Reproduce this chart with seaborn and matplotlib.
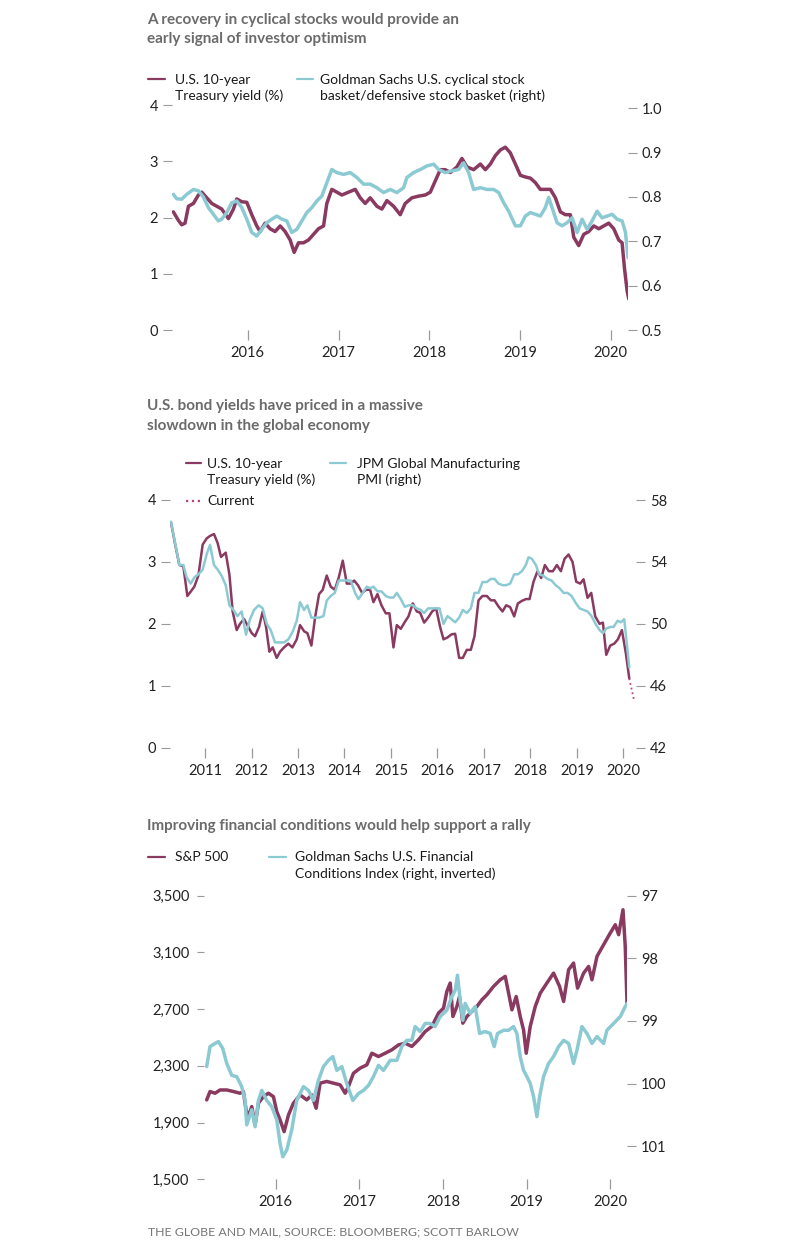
import matplotlib
matplotlib.use("Agg")
import matplotlib.pyplot as plt
from matplotlib.lines import Line2D
import seaborn as sns

# Chart 1: US 10y yield vs cyclical/defensive ratio
yield1_x = [2015.180, 2015.235, 2015.272, 2015.309, 2015.346, 2015.401, 2015.456, 2015.493, 2015.548,
            2015.603, 2015.658, 2015.713, 2015.787, 2015.842, 2015.879, 2015.934, 2015.989, 2016.044,
            2016.099, 2016.136, 2016.191, 2016.246, 2016.301, 2016.357, 2016.412, 2016.467, 2016.511,
            2016.559, 2016.614, 2016.669, 2016.724, 2016.779, 2016.835, 2016.871, 2016.926, 2016.982,
            2017.037, 2017.110, 2017.184, 2017.239, 2017.294, 2017.349, 2017.423, 2017.478, 2017.533,
            2017.607, 2017.680, 2017.735, 2017.809, 2017.882, 2017.956, 2018.011, 2018.066, 2018.121,
            2018.176, 2018.232, 2018.305, 2018.360, 2018.415, 2018.489, 2018.563, 2018.618, 2018.673,
            2018.728, 2018.783, 2018.838, 2018.893, 2018.949, 2019.004, 2019.059, 2019.114, 2019.169,
            2019.224, 2019.279, 2019.335, 2019.390, 2019.445, 2019.500, 2019.555, 2019.592, 2019.647,
            2019.702, 2019.757, 2019.813, 2019.868, 2019.923, 2019.978, 2020.033, 2020.088, 2020.125,
            2020.151, 2020.180, 2020.199]
yield1_y = [2.10, 1.95, 1.87, 1.90, 2.20, 2.25, 2.40, 2.45, 2.35,
            2.25, 2.20, 2.15, 1.98, 2.15, 2.33, 2.28, 2.27, 2.05,
            1.85, 1.75, 1.90, 1.80, 1.75, 1.85, 1.75, 1.60, 1.38,
            1.55, 1.55, 1.60, 1.70, 1.80, 1.85, 2.25, 2.50, 2.45,
            2.40, 2.45, 2.50, 2.35, 2.25, 2.35, 2.20, 2.15, 2.30,
            2.20, 2.05, 2.25, 2.35, 2.38, 2.40, 2.45, 2.65, 2.85,
            2.85, 2.80, 2.90, 3.05, 2.90, 2.85, 2.95, 2.85, 2.95,
            3.10, 3.20, 3.25, 3.15, 2.95, 2.75, 2.72, 2.70, 2.62,
            2.50, 2.50, 2.50, 2.35, 2.10, 2.05, 2.05, 1.65, 1.50,
            1.70, 1.75, 1.85, 1.80, 1.85, 1.90, 1.80, 1.60, 1.55,
            1.10, 0.70, 0.55]

ratio_x = [2015.180, 2015.217, 2015.272, 2015.327, 2015.401, 2015.456, 2015.511, 2015.566, 2015.621,
           2015.676, 2015.713, 2015.768, 2015.824, 2015.879, 2015.934, 2015.989, 2016.044, 2016.099,
           2016.154, 2016.210, 2016.265, 2016.320, 2016.375, 2016.430, 2016.485, 2016.540, 2016.596,
           2016.651, 2016.706, 2016.761, 2016.816, 2016.871, 2016.926, 2016.982, 2017.055, 2017.129,
           2017.202, 2017.276, 2017.349, 2017.423, 2017.496, 2017.570, 2017.643, 2017.717, 2017.754,
           2017.827, 2017.901, 2017.974, 2018.048, 2018.103, 2018.176, 2018.250, 2018.324, 2018.379,
           2018.434, 2018.489, 2018.563, 2018.636, 2018.710, 2018.765, 2018.820, 2018.875, 2018.949,
           2019.004, 2019.059, 2019.114, 2019.169, 2019.224, 2019.279, 2019.316, 2019.371, 2019.408,
           2019.463, 2019.518, 2019.574, 2019.629, 2019.684, 2019.739, 2019.794, 2019.849, 2019.904,
           2019.960, 2020.015, 2020.070, 2020.125, 2020.162, 2020.191]
ratio_y = [0.806, 0.796, 0.795, 0.806, 0.817, 0.814, 0.800, 0.776, 0.761,
           0.746, 0.750, 0.765, 0.787, 0.791, 0.776, 0.750, 0.720, 0.712,
           0.727, 0.742, 0.750, 0.757, 0.750, 0.746, 0.720, 0.727, 0.746,
           0.765, 0.776, 0.791, 0.802, 0.832, 0.862, 0.855, 0.851, 0.855,
           0.844, 0.829, 0.829, 0.821, 0.810, 0.817, 0.810, 0.821, 0.844,
           0.855, 0.862, 0.870, 0.874, 0.862, 0.855, 0.859, 0.862, 0.877,
           0.855, 0.817, 0.821, 0.817, 0.817, 0.810, 0.787, 0.768, 0.735,
           0.735, 0.757, 0.765, 0.761, 0.757, 0.776, 0.799, 0.765, 0.742,
           0.735, 0.742, 0.753, 0.720, 0.750, 0.727, 0.746, 0.768, 0.753,
           0.757, 0.761, 0.750, 0.746, 0.720, 0.663]

# Chart 2: US 10y yield vs JPM global manufacturing PMI (monthly)
yield2_x = [2010.268, 2010.354, 2010.448, 2010.534, 2010.620, 2010.692, 2010.770, 2010.857, 2010.950,
            2011.036, 2011.108, 2011.194, 2011.273, 2011.344, 2011.445, 2011.524, 2011.595, 2011.681,
            2011.753, 2011.839, 2011.911, 2012.004, 2012.076, 2012.162, 2012.241, 2012.313, 2012.385,
            2012.456, 2012.542, 2012.614, 2012.700, 2012.793, 2012.880, 2012.973, 2013.044, 2013.131,
            2013.202, 2013.288, 2013.367, 2013.453, 2013.532, 2013.618, 2013.704, 2013.791, 2013.877,
            2013.963, 2014.049, 2014.135, 2014.207, 2014.293, 2014.379, 2014.465, 2014.551, 2014.623,
            2014.709, 2014.795, 2014.888, 2014.967, 2015.053, 2015.125, 2015.211, 2015.297, 2015.376,
            2015.469, 2015.555, 2015.627, 2015.713, 2015.799, 2015.885, 2015.971, 2016.057, 2016.129,
            2016.215, 2016.301, 2016.380, 2016.466, 2016.545, 2016.631, 2016.717, 2016.796, 2016.882,
            2016.968, 2017.062, 2017.148, 2017.227, 2017.313, 2017.399, 2017.478, 2017.564, 2017.650,
            2017.729, 2017.815, 2017.901, 2017.980, 2018.066, 2018.152, 2018.231, 2018.310, 2018.396,
            2018.482, 2018.568, 2018.654, 2018.733, 2018.819, 2018.905, 2018.984, 2019.070, 2019.142,
            2019.228, 2019.307, 2019.393, 2019.486, 2019.558, 2019.630, 2019.716, 2019.802, 2019.881,
            2019.967, 2020.053, 2020.125]
yield2_y = [3.64, 3.30, 2.95, 2.93, 2.45, 2.52, 2.60, 2.78, 3.28,
            3.38, 3.42, 3.45, 3.30, 3.08, 3.15, 2.80, 2.20, 1.90,
            2.00, 2.08, 1.98, 1.85, 1.80, 1.95, 2.20, 1.95, 1.55,
            1.62, 1.45, 1.55, 1.62, 1.68, 1.62, 1.75, 1.98, 1.88,
            1.85, 1.65, 2.10, 2.48, 2.55, 2.78, 2.60, 2.55, 2.75,
            3.02, 2.65, 2.65, 2.70, 2.62, 2.50, 2.55, 2.55, 2.35,
            2.48, 2.30, 2.17, 2.17, 1.62, 1.98, 1.92, 2.03, 2.12,
            2.33, 2.20, 2.18, 2.02, 2.10, 2.20, 2.25, 1.95, 1.75,
            1.78, 1.83, 1.84, 1.45, 1.45, 1.58, 1.58, 1.80, 2.38,
            2.45, 2.45, 2.38, 2.38, 2.28, 2.20, 2.30, 2.27, 2.12,
            2.33, 2.37, 2.40, 2.40, 2.68, 2.85, 2.74, 2.95, 2.85,
            2.85, 2.95, 2.85, 3.05, 3.12, 3.00, 2.68, 2.65, 2.72,
            2.42, 2.50, 2.12, 2.00, 2.02, 1.50, 1.65, 1.68, 1.75,
            1.90, 1.52, 1.12]
current_x = [2020.125, 2020.232]
current_y = [1.12, 0.75]

pmi_x = [2010.268, 2010.448, 2010.534, 2010.605, 2010.692, 2010.770, 2010.857, 2010.950, 2011.036,
         2011.108, 2011.194, 2011.273, 2011.359, 2011.445, 2011.524, 2011.610, 2011.696, 2011.789,
         2011.882, 2011.968, 2012.055, 2012.155, 2012.241, 2012.327, 2012.413, 2012.506, 2012.600,
         2012.700, 2012.793, 2012.887, 2012.973, 2013.044, 2013.131, 2013.202, 2013.288, 2013.367,
         2013.453, 2013.547, 2013.618, 2013.704, 2013.791, 2013.877, 2013.963, 2014.049, 2014.135,
         2014.228, 2014.300, 2014.393, 2014.479, 2014.551, 2014.623, 2014.709, 2014.795, 2014.888,
         2014.967, 2015.053, 2015.125, 2015.211, 2015.297, 2015.383, 2015.469, 2015.555, 2015.641,
         2015.713, 2015.799, 2015.885, 2015.971, 2016.043, 2016.129, 2016.215, 2016.301, 2016.380,
         2016.466, 2016.545, 2016.631, 2016.717, 2016.796, 2016.882, 2016.968, 2017.062, 2017.148,
         2017.227, 2017.313, 2017.399, 2017.478, 2017.564, 2017.650, 2017.729, 2017.815, 2017.901,
         2017.958, 2018.030, 2018.116, 2018.188, 2018.281, 2018.367, 2018.453, 2018.540, 2018.626,
         2018.712, 2018.798, 2018.884, 2018.963, 2019.056, 2019.142, 2019.228, 2019.314, 2019.400,
         2019.486, 2019.558, 2019.630, 2019.716, 2019.788, 2019.874, 2019.945, 2020.017, 2020.125]
pmi_y = [56.6, 53.8, 53.8, 53.0, 52.6, 53.0, 53.2, 53.5, 54.5,
         55.1, 53.8, 53.5, 53.1, 52.5, 51.2, 50.9, 50.5, 50.8,
         49.3, 50.3, 50.9, 51.2, 51.0, 50.0, 49.6, 48.8, 48.8,
         48.8, 49.0, 49.5, 50.2, 51.4, 50.9, 51.2, 50.4, 50.4,
         50.4, 50.5, 51.5, 51.8, 52.0, 52.8, 52.8, 52.8, 52.8,
         52.0, 51.6, 52.0, 52.4, 52.3, 52.4, 52.1, 52.1, 51.8,
         51.7, 51.7, 52.0, 51.6, 51.1, 51.2, 51.2, 51.0, 50.9,
         50.7, 51.0, 51.0, 51.0, 51.0, 50.0, 50.5, 50.3, 50.1,
         50.4, 50.9, 50.7, 51.0, 52.0, 52.0, 52.7, 52.7, 52.9,
         52.9, 52.6, 52.5, 52.5, 52.6, 53.2, 53.2, 53.4, 53.8,
         54.3, 54.2, 53.8, 53.2, 53.1, 52.9, 52.8, 52.5, 52.3,
         52.0, 52.0, 51.8, 51.4, 51.0, 50.9, 50.8, 50.5, 50.0,
         49.6, 49.4, 49.7, 49.8, 49.8, 50.2, 50.1, 50.3, 47.2]

# Chart 3: S&P 500 vs Goldman Sachs financial conditions index
spx_x = [2015.174, 2015.214, 2015.274, 2015.334, 2015.414, 2015.494, 2015.573, 2015.613, 2015.645,
         2015.673, 2015.713, 2015.753, 2015.793, 2015.852, 2015.912, 2015.972, 2016.012, 2016.052,
         2016.100, 2016.152, 2016.211, 2016.291, 2016.371, 2016.431, 2016.483, 2016.530, 2016.610,
         2016.690, 2016.770, 2016.830, 2016.869, 2016.929, 2017.009, 2017.089, 2017.149, 2017.228,
         2017.308, 2017.388, 2017.468, 2017.547, 2017.627, 2017.707, 2017.787, 2017.866, 2017.946,
         2018.006, 2018.046, 2018.086, 2018.118, 2018.166, 2018.197, 2018.237, 2018.285, 2018.345,
         2018.405, 2018.465, 2018.524, 2018.604, 2018.684, 2018.744, 2018.784, 2018.824, 2018.875,
         2018.923, 2018.963, 2018.995, 2019.043, 2019.103, 2019.163, 2019.242, 2019.322, 2019.394,
         2019.442, 2019.502, 2019.561, 2019.609, 2019.681, 2019.741, 2019.781, 2019.841, 2019.920,
         2020.000, 2020.060, 2020.100, 2020.152, 2020.179, 2020.200]
spx_y = [2060, 2119, 2107, 2130, 2130, 2119, 2107, 2119, 1990,
         1942, 2013, 1884, 2037, 2083, 2107, 2083, 1978, 1919,
         1836, 1954, 2037, 2095, 2060, 2095, 2001, 2178, 2190,
         2178, 2166, 2107, 2154, 2248, 2284, 2307, 2389, 2366,
         2389, 2413, 2448, 2460, 2437, 2484, 2542, 2578, 2672,
         2707, 2825, 2884, 2648, 2719, 2789, 2601, 2648, 2684,
         2719, 2766, 2801, 2860, 2907, 2931, 2813, 2695, 2789,
         2648, 2554, 2389, 2578, 2719, 2813, 2884, 2954, 2860,
         2754, 2978, 3025, 2848, 2954, 3001, 2907, 3072, 3154,
         3237, 3295, 3225, 3401, 3142, 2742]

fci_x = [2015.174, 2015.214, 2015.274, 2015.314, 2015.366, 2015.414, 2015.474, 2015.533, 2015.593,
         2015.633, 2015.653, 2015.713, 2015.753, 2015.793, 2015.833, 2015.892, 2015.952, 2016.012,
         2016.052, 2016.084, 2016.132, 2016.191, 2016.251, 2016.331, 2016.391, 2016.451, 2016.510,
         2016.570, 2016.630, 2016.682, 2016.730, 2016.790, 2016.849, 2016.921, 2016.989, 2017.049,
         2017.109, 2017.168, 2017.228, 2017.288, 2017.368, 2017.448, 2017.507, 2017.567, 2017.627,
         2017.667, 2017.727, 2017.787, 2017.846, 2017.906, 2017.966, 2018.046, 2018.106, 2018.146,
         2018.173, 2018.205, 2018.237, 2018.265, 2018.325, 2018.385, 2018.437, 2018.504, 2018.564,
         2018.612, 2018.652, 2018.724, 2018.784, 2018.843, 2018.883, 2018.923, 2018.963, 2019.003,
         2019.043, 2019.083, 2019.123, 2019.155, 2019.202, 2019.262, 2019.322, 2019.382, 2019.442,
         2019.502, 2019.561, 2019.601, 2019.661, 2019.721, 2019.781, 2019.841, 2019.920, 2019.960,
         2020.040, 2020.120, 2020.179, 2020.207]
fci_y = [99.73, 99.41, 99.36, 99.33, 99.44, 99.68, 99.87, 99.89, 100.05,
         100.27, 100.66, 100.42, 100.69, 100.27, 100.11, 100.27, 100.37, 100.58,
         100.96, 101.17, 101.06, 100.74, 100.27, 100.05, 100.11, 100.27, 99.95,
         99.73, 99.63, 99.57, 99.79, 99.73, 100.00, 100.27, 100.16, 100.11,
         100.03, 99.89, 99.71, 99.79, 99.63, 99.63, 99.41, 99.31, 99.31,
         99.09, 99.17, 99.04, 99.04, 99.09, 98.93, 98.83, 98.61, 98.51,
         98.27, 98.67, 98.99, 98.72, 98.88, 98.77, 99.20, 99.17, 99.20,
         99.41, 99.20, 99.15, 99.15, 99.09, 99.20, 99.57, 99.79, 99.89,
         100.00, 100.21, 100.53, 100.21, 99.89, 99.68, 99.57, 99.41, 99.31,
         99.36, 99.68, 99.47, 99.09, 99.20, 99.36, 99.25, 99.36, 99.15,
         99.04, 98.93, 98.77, 98.72]

MAROON = "#8a3a60"
BLUE = "#8ccad3"
TICK = "#9a9a9a"
W, H = 800, 1247

sns.set_theme(style="white")
plt.rcParams['font.family'] = ['Lato', 'DejaVu Sans']

fig = plt.figure(figsize=(W / 100, H / 100), dpi=100)


def fx(x):
    return x / W


def fy(y):
    return 1 - y / H


def make_axes(left, right, top, bottom):
    ax = fig.add_axes([fx(left), fy(bottom), fx(right - left), (bottom - top) / H])
    ax2 = ax.twinx()
    for a in (ax, ax2):
        a.set_facecolor('none')
        for s in a.spines.values():
            s.set_visible(False)
        a.grid(False)
    ax.tick_params(axis='y', direction='out', length=6.5, width=0.8, color=TICK,
                   pad=3.5, labelsize=10.5, labelcolor='#222222', left=True)
    ax2.tick_params(axis='y', direction='out', length=6.5, width=0.8, color=TICK,
                    pad=3.5, labelsize=10.5, labelcolor='#222222', right=True)
    ax.tick_params(axis='x', direction='out', length=7.5, width=0.9, color=TICK,
                   pad=4, labelsize=10.5, labelcolor='#222222', bottom=True)
    return ax, ax2


def legend_key(x0, x1, y, color, ls='-'):
    fig.add_artist(Line2D([fx(x0), fx(x1)], [fy(y), fy(y)], transform=fig.transFigure,
                          color=color, lw=1.6, ls=ls))


def label(x, y, s):
    fig.text(fx(x), fy(y), s, ha='left', va='center', fontsize=10, color='#1a1a1a',
             linespacing=1.42)


def title(y, s):
    fig.text(fx(147), fy(y), s, ha='left', va='center', fontsize=11, fontweight='bold',
             color='#6b6b6b', linespacing=1.5)


def finish(ax, ax2, x_name, y_name):
    ax.set_xlabel('')
    ax.set_ylabel('')
    ax2.set_ylabel('')


# ---- chart 1
ax, ax2 = make_axes(172, 628, 105, 330)
sns.lineplot(x=yield1_x, y=yield1_y, ax=ax, color=MAROON, lw=2.5, estimator=None)
sns.lineplot(x=ratio_x, y=ratio_y, ax=ax2, color=BLUE, lw=2.5, estimator=None)
ax.set_xlim(2015.165, 2020.19)
ax.set_ylim(0, 4)
ax.set_yticks([0, 1, 2, 3, 4])
ax2.set_ylim(0.5, 1.0075)
ax2.set_yticks([0.5, 0.6, 0.7, 0.8, 0.9, 1.0])
ax2.set_yticklabels(['0.5', '0.6', '0.7', '0.8', '0.9', '1.0'])
ax.set_xticks([2016, 2017, 2018, 2019, 2020])
ax.set_xticklabels(['2016', '2017', '2018', '2019', '2020'])
finish(ax, ax2, '', '')

title(29.7, "A recovery in cyclical stocks would provide an\nearly signal of investor optimism")
legend_key(148, 165, 79, MAROON)
label(175, 88, "U.S. 10-year\nTreasury yield (%)")
legend_key(297, 313, 79, BLUE)
label(320, 88, "Goldman Sachs U.S. cyclical stock\nbasket/defensive stock basket (right)")

# ---- chart 2
ax, ax2 = make_axes(170, 636, 500, 747.7)
sns.lineplot(x=yield2_x, y=yield2_y, ax=ax, color=MAROON, lw=1.8, estimator=None)
sns.lineplot(x=current_x, y=current_y, ax=ax, color="#b0467a", lw=1.3, ls=':', estimator=None)
sns.lineplot(x=pmi_x, y=pmi_y, ax=ax2, color=BLUE, lw=1.8, estimator=None)
ax.set_xlim(2010.247, 2020.27)
ax.set_ylim(0, 4)
ax.set_yticks([0, 1, 2, 3, 4])
ax2.set_ylim(42, 58)
ax2.set_yticks([42, 46, 50, 54, 58])
ax.set_xticks(list(range(2011, 2021)))
ax.set_xticklabels([str(y) for y in range(2011, 2021)])
finish(ax, ax2, '', '')

title(416, "U.S. bond yields have priced in a massive\nslowdown in the global economy")
legend_key(186, 201, 462.5, MAROON)
label(207, 472, "U.S. 10-year\nTreasury yield (%)")
legend_key(186, 201, 501, "#b0467a", ls=':')
label(207, 501, "Current")
legend_key(330, 346, 462.5, BLUE)
label(357, 472, "JPM Global Manufacturing\nPMI (right)")

# ---- chart 3
ax, ax2 = make_axes(204, 627, 895.7, 1179.3)
sns.lineplot(x=spx_x, y=spx_y, ax=ax, color=MAROON, lw=2.5, estimator=None)
sns.lineplot(x=fci_x, y=fci_y, ax=ax2, color=BLUE, lw=2.5, estimator=None)
ax.set_xlim(2015.142, 2020.20)
ax.set_ylim(1500, 3500)
ax.set_yticks([1500, 1900, 2300, 2700, 3100, 3500])
ax.set_yticklabels(['1,500', '1,900', '2,300', '2,700', '3,100', '3,500'])
ax.tick_params(axis='y', pad=5.5, length=5)
ax2.set_ylim(101.53, 97)
ax2.set_yticks([97, 98, 99, 100, 101])
ax.set_xticks([2016, 2017, 2018, 2019, 2020])
ax.set_xticklabels(['2016', '2017', '2018', '2019', '2020'])
finish(ax, ax2, '', '')

title(826, "Improving financial conditions would help support a rally")
legend_key(148, 165, 856.7, MAROON)
label(175, 856.7, "S&P 500")
legend_key(269, 286, 856.7, BLUE)
label(295, 865.5, "Goldman Sachs U.S. Financial\nConditions Index (right, inverted)")

fig.text(fx(148), fy(1232), "THE GLOBE AND MAIL, SOURCE: BLOOMBERG; SCOTT BARLOW",
         ha='left', va='center', fontsize=8.9, color='#777777')

fig.savefig('out.png', dpi=100)
